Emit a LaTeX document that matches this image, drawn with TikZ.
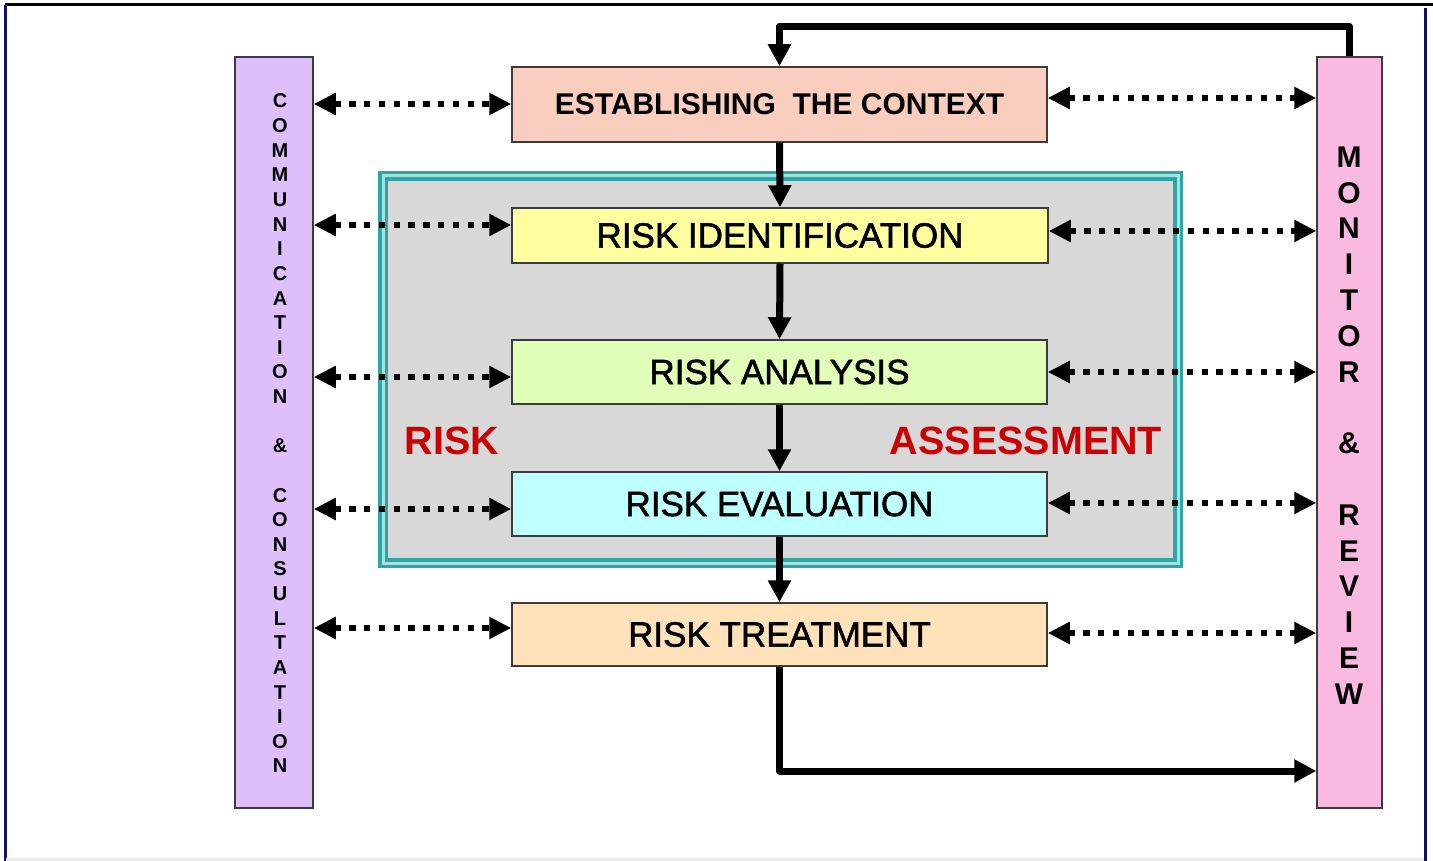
\documentclass[tikz,border=0pt]{standalone}
\usepackage{fontspec}
\setmainfont{Liberation Sans}
\newfontfamily\medfont[FakeBold=1.6]{Liberation Sans}
\usetikzlibrary{arrows.meta,calc}
\definecolor{ctxfill}{RGB}{250,206,190}
\definecolor{idfill}{RGB}{255,255,160}
\definecolor{anfill}{RGB}{226,255,186}
\definecolor{evfill}{RGB}{190,255,255}
\definecolor{trfill}{RGB}{255,226,186}
\definecolor{commfill}{RGB}{222,190,251}
\definecolor{monfill}{RGB}{249,186,225}
\definecolor{assfill}{RGB}{216,216,216}
\definecolor{tealdark}{RGB}{48,165,165}
\definecolor{teallight}{RGB}{160,228,228}
\definecolor{redtxt}{RGB}{204,0,0}
\definecolor{navy}{RGB}{16,16,112}
\definecolor{boxline}{RGB}{60,60,60}
\tikzset{
  stagebox/.style={draw=boxline, line width=1.5pt, inner sep=0pt, minimum width=535pt, align=center},
  stagefont/.style={font=\medfont\fontsize{35}{37}\selectfont},
  barbox/.style={draw=boxline, line width=1.5pt, inner sep=0pt},
  bartext/.style={inner sep=0pt, align=center, font=\bfseries},
  flow/.style={line width=7pt, line join=round, -{Triangle[length=22pt,width=22pt]}},
  dotarrow/.style={line width=6.5pt, dash pattern=on 6.5pt off 8.3pt, {Triangle[length=22pt,width=21pt]}-{Triangle[length=22pt,width=21pt]}},
  redlabel/.style={text=redtxt, inner sep=0pt, font=\fontsize{39.5}{40}\selectfont\bfseries}
}
\begin{document}
\begin{tikzpicture}[x=1pt,y=-1pt]
\fill[white] (0,0) rectangle (1433,861);
\useasboundingbox (0,0) rectangle (1433,861);
% frame
\draw[line width=3pt, black] (5,5) -- (1433,5);
\draw[line width=3pt, navy] (5,5) -- (5,861);
\draw[line width=3pt, navy] (1425,8) -- (1425,861);
\draw[line width=3pt, black!8] (6,859) -- (1424,859);
% risk assessment frame
\filldraw[fill=assfill, draw=tealdark, line width=10pt] (383,176) rectangle (1178,563);
\draw[teallight, line width=3pt] (383,176) rectangle (1178,563);
% side bars
\node[barbox, fill=commfill, minimum width=78pt, minimum height=751pt] (comm) at (274,432.5) {};
\node[barbox, fill=monfill, minimum width=65pt, minimum height=751pt] (mon) at (1349.5,432.5) {};
\node[bartext, font=\fontsize{20}{24.63}\selectfont\bfseries] (commtxt) at (280,433.5)
 {C\\O\\M\\M\\U\\N\\I\\C\\A\\T\\I\\O\\N\\[24.63pt]\&\\[24.63pt]C\\O\\N\\S\\U\\L\\T\\A\\T\\I\\O\\N};
\node[bartext, font=\fontsize{30}{35.8}\selectfont\bfseries] (montxt) at (1349,425.5)
 {M\\O\\N\\I\\T\\O\\R\\[35.8pt]\&\\[35.8pt]R\\E\\V\\I\\E\\W};
% stages
\node[stagebox, fill=ctxfill, minimum height=75pt, font=\fontsize{30}{32}\selectfont\bfseries] (ctx) at (779.5,104.5) {ESTABLISHING\ \ THE CONTEXT};
\node[stagebox, stagefont, fill=idfill, minimum width=536pt, minimum height=55pt] (ident) at (780,235.5) {RISK IDENTIFICATION};
\node[stagebox, stagefont, fill=anfill, minimum height=64pt] (anal) at (779.5,372) {RISK ANALYSIS};
\node[stagebox, stagefont, fill=evfill, minimum height=64pt] (eval) at (779.5,504) {RISK EVALUATION};
\node[stagebox, stagefont, fill=trfill, minimum height=63pt] (treat) at (779.5,634.5) {RISK TREATMENT};
% red labels
\node[redlabel] (risk) at (452,441) {RISK};
\node[redlabel] (assess) at (1026,441) {ASSESSMENT};
% main flow
\draw[flow] (ctx.south) -- (ident.north);
\draw[flow] (ident.south) -- (anal.north);
\draw[flow] (anal.south) -- (eval.north);
\draw[flow] (eval.south) -- (treat.north);
\draw[flow] (mon.north) -- ++(0,-30) -| (ctx.north);
\draw[flow] (treat.south) |- (mon.west |- 0,771);
% communication links
\draw[dotarrow] (comm.east |- 0,104) -- (ctx.west |- 0,104);
\draw[dotarrow] (comm.east |- 0,225) -- (ident.west |- 0,225);
\draw[dotarrow] (comm.east |- 0,377) -- (anal.west |- 0,377);
\draw[dotarrow] (comm.east |- 0,509) -- (eval.west |- 0,509);
\draw[dotarrow] (comm.east |- 0,628) -- (treat.west |- 0,628);
% monitor links
\draw[dotarrow] (ctx.east |- 0,98) -- (mon.west |- 0,98);
\draw[dotarrow] (ident.east |- 0,231) -- (mon.west |- 0,231);
\draw[dotarrow] (anal.east |- 0,372) -- (mon.west |- 0,372);
\draw[dotarrow] (eval.east |- 0,503) -- (mon.west |- 0,503);
\draw[dotarrow] (treat.east |- 0,633) -- (mon.west |- 0,633);
\end{tikzpicture}
\end{document}
